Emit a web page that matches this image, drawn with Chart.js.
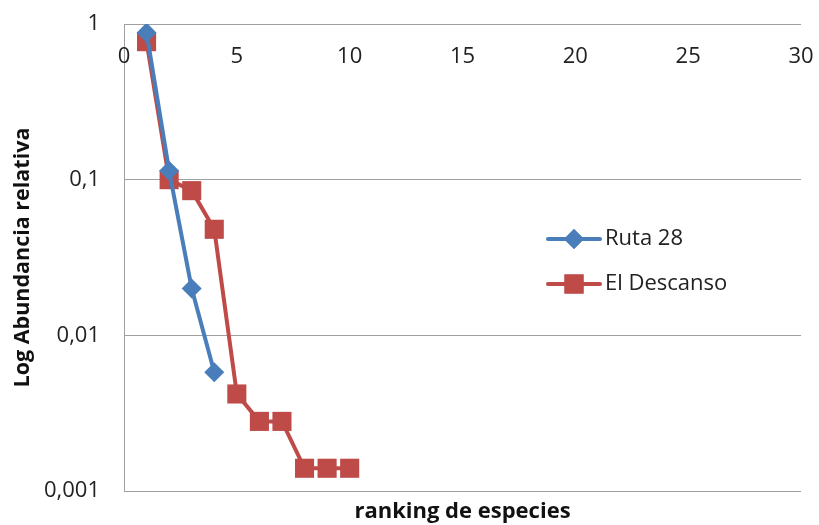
<!DOCTYPE html>
<html>
<head>
<meta charset="utf-8">
<script src="https://cdn.jsdelivr.net/npm/chart.js@4"></script>
<style>
  html, body { margin: 0; padding: 0; background: #fff; }
  #wrap { width: 819px; height: 525px; }
</style>
</head>
<body>
<div id="wrap"><canvas id="myChart" width="819" height="525"></canvas></div>
<script>
// ranking (x) for each series
const rankRuta = [1, 2, 3, 4];
const rankDescanso = [1, 2, 3, 4, 5, 6, 7, 8, 9, 10];

// relative abundance values
const ruta28 = [0.88, 0.114, 0.020, 0.0058];
const elDescanso = [0.77, 0.100, 0.085, 0.048, 0.0042, 0.0028, 0.0028, 0.0014, 0.0014, 0.0014];

// axis ticks
const xTicks = [0, 5, 10, 15, 20, 25, 30];
const yTicks = [1, 0.1, 0.01, 0.001];
const yTickLabels = ['1', '0,1', '0,01', '0,001'];

const FONT = "'Open Sans', 'DejaVu Sans', sans-serif";
const GRID = '#a0a0a0';

// x tick labels sit just under the top line (Excel-style axis crossing at 1)
const topTicks = {
  id: 'topTicks',
  afterDraw(chart) {
    const ctx = chart.ctx;
    const xs = chart.scales.x;
    ctx.save();
    ctx.font = '22px ' + FONT;
    ctx.fillStyle = '#222';
    ctx.textAlign = 'center';
    ctx.textBaseline = 'middle';
    xTicks.forEach(v => {
      ctx.fillText(String(v), xs.getPixelForValue(v), chart.chartArea.top + 33);
    });
    ctx.restore();
  }
};

// legend on the right inside the plot
const sideLegend = {
  id: 'sideLegend',
  afterDraw(chart) {
    const ctx = chart.ctx;
    const x0 = 548, rows = [239, 284];
    ctx.save();
    chart.data.datasets.forEach((ds, i) => {
      const y = rows[i];
      ctx.strokeStyle = ds.borderColor;
      ctx.lineWidth = 4;
      ctx.lineCap = 'round';
      ctx.beginPath();
      ctx.moveTo(x0, y);
      ctx.lineTo(x0 + 52, y);
      ctx.stroke();
      ctx.fillStyle = ds.borderColor;
      Chart.helpers.drawPoint(ctx, {
        pointStyle: ds.pointStyle,
        radius: ds.pointRadius,
        rotation: 0,
        borderWidth: 0
      }, x0 + 26, y);
      ctx.fill();
      ctx.fillStyle = '#222';
      ctx.font = '22px ' + FONT;
      ctx.textAlign = 'left';
      ctx.textBaseline = 'middle';
      ctx.fillText(ds.label, x0 + 57, y);
    });
    ctx.restore();
  }
};

const ctx = document.getElementById('myChart').getContext('2d');
const chart = new Chart(ctx, {
  type: 'line',
  data: {
    datasets: [{
      label: 'Ruta 28',
      data: rankRuta.map((r, i) => ({ x: r, y: ruta28[i] })),
      borderColor: '#4a7ebb',
      backgroundColor: '#4a7ebb',
      borderWidth: 4,
      pointStyle: 'rectRot',
      pointRadius: 10,
      pointBorderWidth: 0,
      fill: false
    }, {
      label: 'El Descanso',
      data: rankDescanso.map((r, i) => ({ x: r, y: elDescanso[i] })),
      borderColor: '#be4b48',
      backgroundColor: '#be4b48',
      borderWidth: 4,
      pointStyle: 'rect',
      pointRadius: 13.5,
      pointBorderWidth: 0,
      fill: false
    }]
  },
  options: {
    responsive: false,
    animation: false,
    layout: { padding: { top: 24, right: 18, left: 0, bottom: 0 } },
    plugins: {
      legend: { display: false },
      tooltip: { enabled: false }
    },
    scales: {
      x: {
        type: 'linear',
        min: 0,
        max: 30,
        position: 'bottom',
        grid: { display: false },
        border: { display: false },
        ticks: { display: false },
        title: {
          display: true,
          text: 'ranking de especies',
          font: { family: FONT, size: 22, weight: 'bold' },
          color: '#111',
          padding: { top: 0, bottom: 0 }
        },
        afterFit(scale) {
          scale.height = 34;
          scale.paddingLeft = 0;
          scale.paddingRight = 0;
        }
      },
      y: {
        type: 'logarithmic',
        min: 0.001,
        max: 1,
        afterBuildTicks(scale) {
          scale.ticks = yTicks.map(v => ({ value: v }));
        },
        ticks: {
          callback(value) {
            const i = yTicks.indexOf(value);
            return i >= 0 ? yTickLabels[i] : '';
          },
          font: { family: FONT, size: 22 },
          color: '#222',
          padding: 24
        },
        grid: { color: GRID, lineWidth: 1, drawTicks: false },
        border: { display: true, color: GRID, width: 1 },
        title: {
          display: true,
          text: 'Log Abundancia relativa',
          font: { family: FONT, size: 21.5, weight: 'bold' },
          color: '#111',
          padding: { top: 10, bottom: 0 }
        },
        afterFit(scale) {
          scale.width = 124;
          scale.paddingTop = 0;
          scale.paddingBottom = 0;
        }
      }
    }
  },
  plugins: [topTicks, sideLegend]
});
</script>
</body>
</html>
